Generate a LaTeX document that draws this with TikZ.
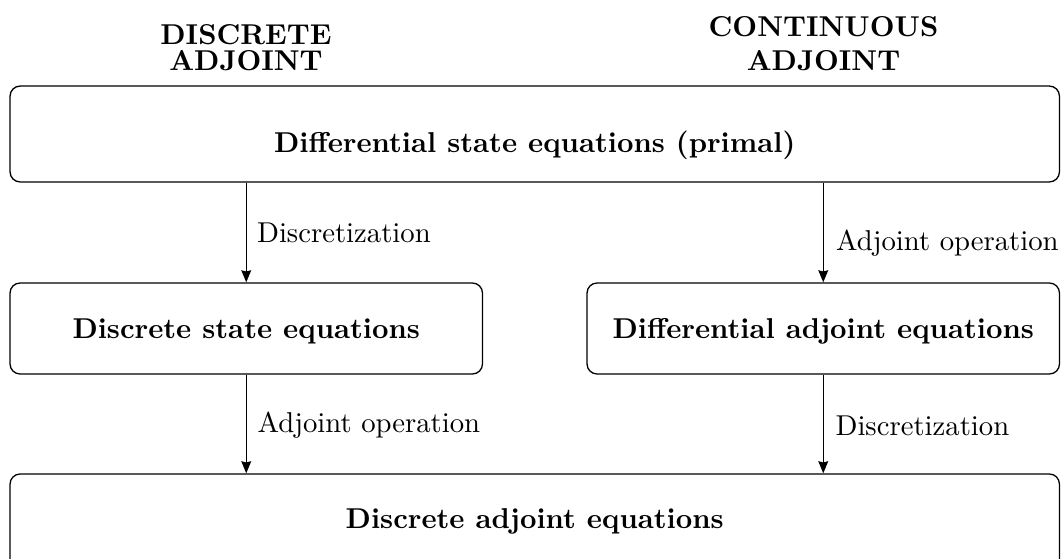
\documentclass[tikz,border=0pt]{standalone}
\usetikzlibrary{arrows.meta}

\tikzset{
  stagebox/.style={draw, rounded corners=3.5pt, line width=0.45pt,
    font=\bfseries, inner sep=0pt, text depth=0pt},
  widebox/.style={stagebox, minimum width=365.6pt},
  halfbox/.style={stagebox, minimum width=164.6pt, minimum height=31.7pt, text height=6.8pt},
  heading/.style={font=\bfseries, align=center, inner sep=0pt, anchor=south},
  steplabel/.style={anchor=base west, inner sep=0pt},
  flow/.style={line width=0.45pt, -{Stealth[length=4.2pt,width=3.4pt,inset=0.4pt]}}
}

\begin{document}
\begin{tikzpicture}[x=0.3484pt, y=-0.3484pt]
  % page frame; the lowest box runs past the bottom edge
  \clip (0,0) rectangle (1063,559);

  % column headings
  \node[heading] (hdisc) at (246,71) {DISCRETE\\[-3pt]ADJOINT};
  \node[heading] (hcont) at (823.5,71.4) {CONTINUOUS\\ADJOINT};

  % stages
  \node[widebox, minimum height=33.4pt, text height=13.2pt] (primal) at (534.75,134)
    {Differential state equations (primal)};
  \node[halfbox] (dstate) at (246.25,328.5) {Discrete state equations};
  \node[halfbox] (cadj) at (823.25,328.5) {Differential adjoint equations};
  \node[widebox, minimum height=33.1pt, text height=5.2pt] (dadj) at (534.75,521.5)
    {Discrete adjoint equations};

  % transformations
  \draw[flow] (primal.south -| dstate.north) -- (dstate.north);
  \draw[flow] (primal.south -| cadj.north) -- (cadj.north);
  \draw[flow] (dstate.south) -- (dadj.north -| dstate.south);
  \draw[flow] (cadj.south) -- (dadj.north -| cadj.south);

  % transformation labels
  \node[steplabel] (l1) at (256.5,242.5) {Discretization};
  \node[steplabel] (l2) at (835.5,250) {Adjoint operation};
  \node[steplabel] (l3) at (257,432) {Adjoint operation};
  \node[steplabel] (l4) at (835,435) {Discretization};
\end{tikzpicture}
\end{document}
